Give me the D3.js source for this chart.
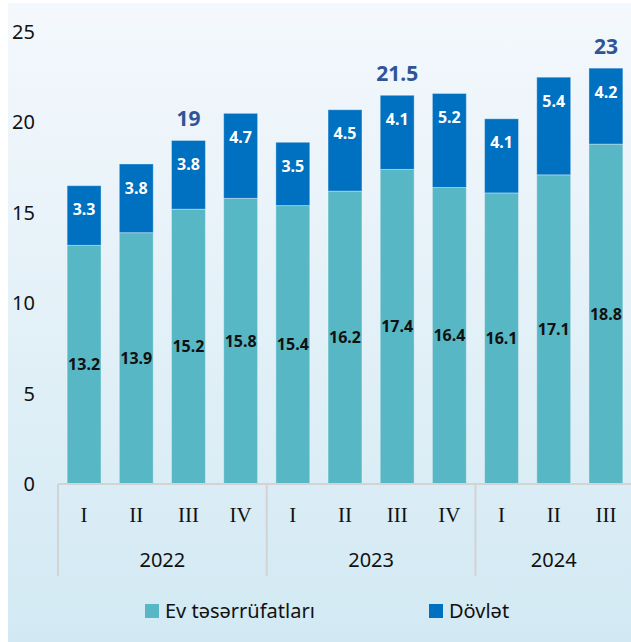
<!DOCTYPE html>
<html>
<head>
<meta charset="utf-8">
<script src="https://cdn.jsdelivr.net/npm/d3@7"></script>
<style>
  body { margin: 0; background: #fff; }
  svg { display: block; font-family: "Noto Sans", sans-serif; }
</style>
</head>
<body>
<div class="graph"></div>
<script>
// Data
var categories = ["2022-I","2022-II","2022-III","2022-IV","2023-I","2023-II","2023-III","2023-IV","2024-I","2024-II","2024-III"];
var households = [13.2, 13.9, 15.2, 15.8, 15.4, 16.2, 17.4, 16.4, 16.1, 17.1, 18.8];
var government = [3.3, 3.8, 3.8, 4.7, 3.5, 4.5, 4.1, 5.2, 4.1, 5.4, 4.2];
var totals = [null, null, 19, null, null, null, 21.5, null, null, null, 23];
var yTicks = [0, 5, 10, 15, 20, 25];
var seriesNames = ["Ev təsərrüfatları", "Dövlət"];

// Configuration
var width = 631, height = 642;
var colors = ["#58b7c5", "#0070c0"];

var svg = d3.select(".graph").append("svg")
    .attr("width", width)
    .attr("height", height);

// background gradient
var grad = svg.append("defs").append("linearGradient")
    .attr("id", "bg").attr("x1", 0).attr("y1", 0).attr("x2", 0).attr("y2", 1);
grad.append("stop").attr("offset", "0%").attr("stop-color", "#f4f8fc");
grad.append("stop").attr("offset", "100%").attr("stop-color", "#d2e9f3");
svg.append("rect")
    .attr("x", 8).attr("y", 3)
    .attr("width", width - 8).attr("height", height - 3)
    .attr("fill", "url(#bg)");

// Scales
var x = d3.scaleBand()
    .domain(categories)
    .range([58, 632])
    .paddingInner(0.35)
    .paddingOuter(0.175);
var y = d3.scaleLinear()
    .domain([0, 25])
    .range([484, 32]);

// Stacked data
var rows = categories.map(function(c, i) {
  return {cat: c, h: households[i], g: government[i], total: totals[i]};
});
var stack = d3.stack().keys(["h", "g"])(rows);

var layers = svg.selectAll(".layer")
    .data(stack)
    .enter().append("g")
    .attr("class", "layer")
    .attr("fill", function(d, i) { return colors[i]; });

layers.selectAll("rect")
    .data(function(d) { return d; })
    .enter().append("rect")
    .attr("x", function(d) { return x(d.data.cat); })
    .attr("y", function(d) { return y(d[1]); })
    .attr("width", x.bandwidth())
    .attr("height", function(d) { return y(d[0]) - y(d[1]); })
    .attr("stroke", "rgba(255,255,255,0.35)")
    .attr("stroke-width", 1);

// Value labels: households (centered)
svg.append("g").selectAll("text")
    .data(stack[0])
    .enter().append("text")
    .attr("x", function(d) { return x(d.data.cat) + x.bandwidth() / 2; })
    .attr("y", function(d) { return (y(d[0]) + y(d[1])) / 2; })
    .attr("dy", "0.35em")
    .attr("text-anchor", "middle")
    .style("font-size", "16px")
    .style("font-weight", "bold")
    .style("fill", "#111")
    .text(function(d) { return d.data.h; });

// Value labels: government (near top)
svg.append("g").selectAll("text")
    .data(stack[1])
    .enter().append("text")
    .attr("x", function(d) { return x(d.data.cat) + x.bandwidth() / 2; })
    .attr("y", function(d) { return y(d[1]) + 24; })
    .attr("dy", "0.35em")
    .attr("text-anchor", "middle")
    .style("font-size", "16px")
    .style("font-weight", "bold")
    .style("fill", "#fff")
    .text(function(d) { return d.data.g.toFixed(1); });

// Totals
svg.append("g").selectAll("text")
    .data(rows.filter(function(d) { return d.total !== null; }))
    .enter().append("text")
    .attr("x", function(d) { return x(d.cat) + x.bandwidth() / 2; })
    .attr("y", function(d) { return y(d.h + d.g) - 14; })
    .attr("text-anchor", "middle")
    .style("font-size", "21px")
    .style("font-weight", "bold")
    .style("fill", "#2f5597")
    .text(function(d) { return d.total; });

// Y axis
var yAxis = svg.append("g")
    .attr("transform", "translate(58,0)")
    .call(d3.axisLeft(y).tickValues(yTicks).tickSize(0).tickPadding(23));
yAxis.select(".domain").remove();
yAxis.selectAll("text")
    .style("font-family", "'Noto Sans', sans-serif")
    .style("font-size", "20px")
    .style("fill", "#111");

// X axis line
svg.append("line")
    .attr("x1", 58).attr("x2", 632)
    .attr("y1", y(0)).attr("y2", y(0))
    .attr("stroke", "#d3d3d3").attr("stroke-width", 2);

// Quarter labels
var xAxis = svg.append("g")
    .attr("transform", "translate(0," + y(0) + ")")
    .call(d3.axisBottom(x).tickSize(0).tickPadding(23)
      .tickFormat(function(d) { return d.split("-")[1]; }));
xAxis.select(".domain").remove();
xAxis.selectAll("text")
    .style("font-family", "'Liberation Serif', serif")
    .style("font-size", "21px")
    .style("fill", "#111");

// Year groups
var years = Array.from(new Set(categories.map(function(c) { return c.split("-")[0]; })));
var step = x.step();
var groups = years.map(function(yr) {
  var cats = categories.filter(function(c) { return c.split("-")[0] === yr; });
  var x0 = x(cats[0]) - (step - x.bandwidth()) / 2;
  var x1 = x(cats[cats.length - 1]) + x.bandwidth() + (step - x.bandwidth()) / 2;
  return {year: yr, x0: x0, x1: x1};
});
groups[0].x0 = 58;
groups[groups.length - 1].x1 = 632;

svg.append("g").selectAll("line")
    .data(groups.map(function(g) { return g.x0; }).concat([632]))
    .enter().append("line")
    .attr("x1", function(d) { return d; }).attr("x2", function(d) { return d; })
    .attr("y1", y(0)).attr("y2", 576)
    .attr("stroke", "#d3d3d3").attr("stroke-width", 2);

svg.append("g").selectAll("text")
    .data(groups)
    .enter().append("text")
    .attr("x", function(d) { return (d.x0 + d.x1) / 2; })
    .attr("y", 560)
    .attr("dy", "0.35em")
    .attr("text-anchor", "middle")
    .style("font-size", "20px")
    .style("fill", "#111")
    .text(function(d) { return d.year; });

// Legend
var legendX = [145, 429];
var legend = svg.append("g").selectAll("g")
    .data(seriesNames)
    .enter().append("g")
    .attr("transform", function(d, i) { return "translate(" + legendX[i] + ",604)"; });
legend.append("rect")
    .attr("width", 14).attr("height", 14)
    .attr("fill", function(d, i) { return colors[i]; });
legend.append("text")
    .attr("x", 20).attr("y", 7)
    .attr("dy", "0.35em")
    .style("font-size", "20px")
    .style("fill", "#111")
    .text(function(d) { return d; });
</script>
</body>
</html>
